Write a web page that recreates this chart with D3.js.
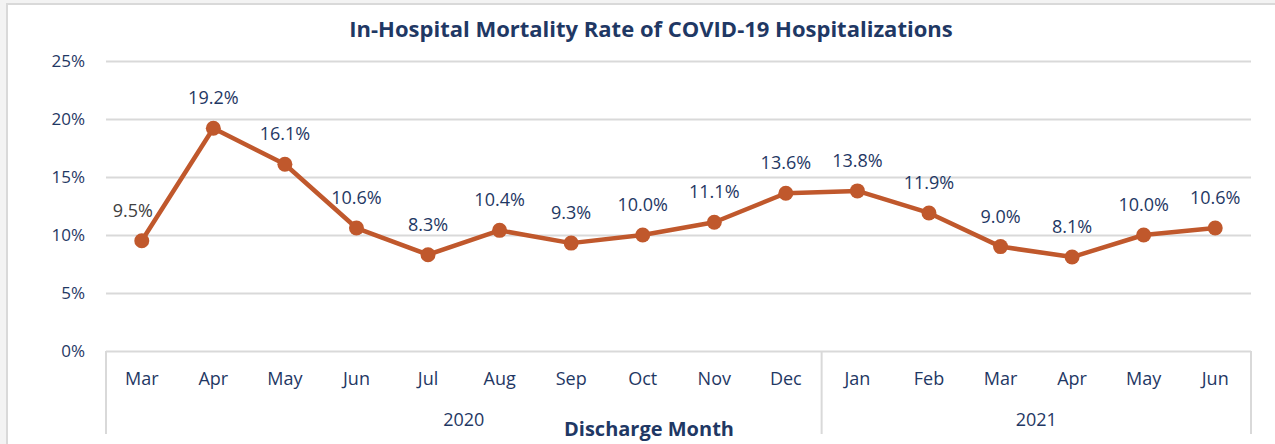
<!DOCTYPE html>
<html>
<head>
<meta charset="utf-8">
<script src="https://cdn.jsdelivr.net/npm/d3@7"></script>
<style>
  body { margin: 0; background: #f3f3f3; }
  svg { display: block; font-family: "Open Sans", sans-serif; }
</style>
</head>
<body>
<svg width="1275" height="444"></svg>
<script>
// chart values
var months = ["Mar", "Apr", "May", "Jun", "Jul", "Aug", "Sep", "Oct", "Nov", "Dec",
	"Jan", "Feb", "Mar", "Apr", "May", "Jun"]
var years = ["2020", "2021"]
var yearCounts = [10, 6]
var rates = [9.5, 19.2, 16.1, 10.6, 8.3, 10.4, 9.3, 10.0, 11.1, 13.6, 13.8, 11.9, 9.0, 8.1, 10.0, 10.6]
var yTicks = [0, 5, 10, 15, 20, 25]

var navy = "#1f3864",
	lineColor = "#c0582c",
	gridColor = "#d9d9d9"

var svg = d3.select("svg"),
	margin = { top: 61, right: 24, bottom: 93, left: 106 },
	width = +svg.attr("width") - margin.left - margin.right,
	height = +svg.attr("height") - margin.top - margin.bottom

// white chart area with a light border
svg.append("rect")
	.attr("x", 7).attr("y", 4)
	.attr("width", 1280).attr("height", 460)
	.attr("fill", "#fff")
	.attr("stroke", gridColor)
	.attr("stroke-width", 2)

var x = d3.scaleBand().domain(d3.range(months.length)).range([0, width]),
	y = d3.scaleLinear().domain([0, 25]).range([height, 0])

var g = svg.append("g")
	.attr("transform", "translate(" + margin.left + "," + margin.top + ")")

// title
svg.append("text")
	.attr("x", 651).attr("y", 37)
	.attr("text-anchor", "middle")
	.attr("font-weight", "bold")
	.attr("font-size", 22)
	.attr("fill", navy)
	.text("In-Hospital Mortality Rate of COVID-19 Hospitalizations")

// y axis with gridlines
var yAxis = g.append("g")
	.call(d3.axisLeft(y)
		.tickValues(yTicks)
		.tickSize(-width)
		.tickPadding(21)
		.tickFormat(function(d) { return d + "%" }))
yAxis.select(".domain").remove()
yAxis.selectAll("line").attr("stroke", gridColor).attr("stroke-width", 2)
yAxis.selectAll("text")
	.attr("fill", navy)
	.attr("font-size", 17)
	.attr("font-family", "Open Sans")

// month labels
var xAxis = g.append("g")
	.attr("transform", "translate(0," + height + ")")
	.call(d3.axisBottom(x)
		.tickSize(0)
		.tickPadding(21)
		.tickFormat(function(i) { return months[i] }))
xAxis.select(".domain").remove()
xAxis.selectAll("text")
	.attr("fill", navy)
	.attr("font-size", 18)
	.attr("font-family", "Open Sans")

// year groups with separators
var starts = [0]
yearCounts.forEach(function(c, i) { starts.push(starts[i] + c) })

g.selectAll(".sep")
	.data(starts)
	.enter().append("line")
	.attr("x1", function(s) { return s * x.step() })
	.attr("x2", function(s) { return s * x.step() })
	.attr("y1", height)
	.attr("y2", height + 83)
	.attr("stroke", gridColor)
	.attr("stroke-width", 2)

g.selectAll(".year")
	.data(years)
	.enter().append("text")
	.attr("x", function(d, i) { return (starts[i] + yearCounts[i] / 2) * x.step() })
	.attr("y", height + 75)
	.attr("text-anchor", "middle")
	.attr("font-size", 18)
	.attr("fill", navy)
	.text(function(d) { return d })

// axis title
svg.append("text")
	.attr("x", 649).attr("y", 436)
	.attr("text-anchor", "middle")
	.attr("font-weight", "bold")
	.attr("font-size", 20)
	.attr("fill", navy)
	.text("Discharge Month")

// the line
var line = d3.line()
	.x(function(d, i) { return x(i) + x.bandwidth() / 2 })
	.y(function(d) { return y(d) })

g.append("path")
	.datum(rates)
	.attr("fill", "none")
	.attr("stroke", lineColor)
	.attr("stroke-width", 4.5)
	.attr("stroke-linejoin", "round")
	.attr("d", line)

g.selectAll(".dot")
	.data(rates)
	.enter().append("circle")
	.attr("cx", function(d, i) { return x(i) + x.bandwidth() / 2 })
	.attr("cy", function(d) { return y(d) })
	.attr("r", 7.5)
	.attr("fill", lineColor)

// value labels, first one sits up-left and is grey
g.selectAll(".lbl")
	.data(rates)
	.enter().append("text")
	.attr("x", function(d, i) { return x(i) + x.bandwidth() / 2 + (i === 0 ? -9 : 0) })
	.attr("y", function(d) { return y(d) - 24 })
	.attr("text-anchor", "middle")
	.attr("font-size", 18)
	.attr("fill", function(d, i) { return i === 0 ? "#404040" : navy })
	.text(function(d) { return d.toFixed(1) + "%" })
</script>
</body>
</html>
